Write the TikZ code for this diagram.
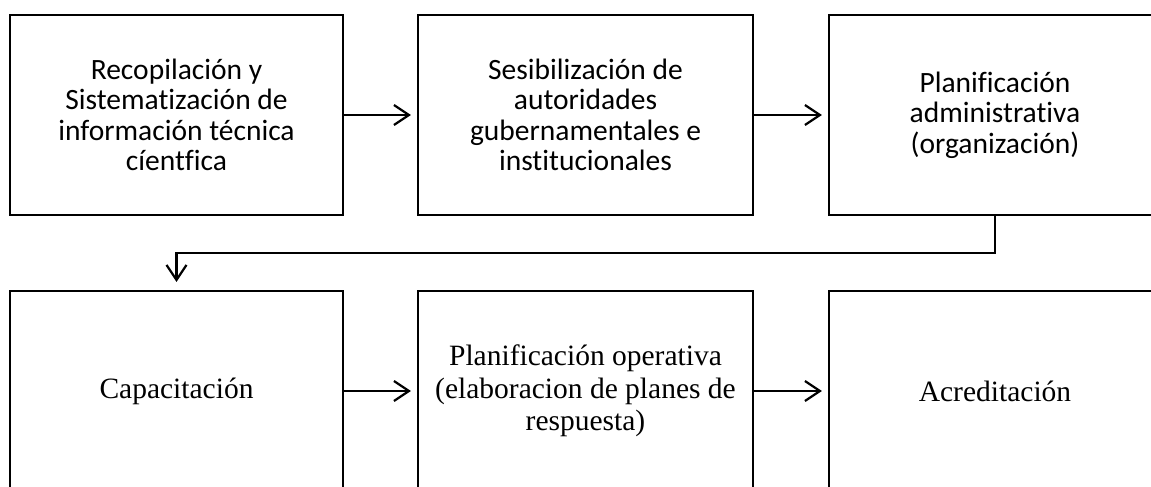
\documentclass[tikz,border=0pt]{standalone}
\usepackage{fontspec}
\setmainfont{Liberation Serif}[Ligatures={NoCommon}]
\newfontfamily\calfont{Carlito}[Ligatures={NoCommon}]
\usetikzlibrary{arrows.meta}
\tikzset{
  box/.style={draw, line width=2.2pt, rectangle, minimum height=200pt, inner sep=0pt, align=center},
  topbox/.style={box, font=\calfont\fontsize{29.5}{30.5}\selectfont},
  botbox/.style={box, font=\fontsize{29.5}{32.5}\selectfont},
  arr/.style={line width=2.2pt, -{Straight Barb[length=15pt,width=20pt,line width=2.2pt]}},
}
\begin{document}
\begin{tikzpicture}[x=1pt,y=-1pt]
\useasboundingbox (0,0) rectangle (1151,487);
\clip (0,0) rectangle (1151,487);
\fill[white] (0,0) rectangle (1151,487);
\node[topbox, minimum width=333pt] (n1) at (176.5,115) {Recopilación y\\Sistematización de\\información técnica\\cíentfica};
\node[topbox, minimum width=335pt] (n2) at (585.5,115) {Sesibilización de\\autoridades\\gubernamentales e\\institucionales};
\node[topbox, minimum width=332pt] (n3) at (995,115) {Planificación\\administrativa\\(organización)};
\node[botbox, minimum width=333pt] (n4) at (176.5,391) {Capacitación};
\node[botbox, minimum width=335pt] (n5) at (585.5,391) {Planificación operativa\\(elaboracion de planes de\\respuesta)};
\node[botbox, minimum width=332pt] (n6) at (995,391) {Acreditación};
\coordinate (bend) at (995,253);
\draw[arr, shorten >=6pt] (n1.east) -- (n2.west);
\draw[arr, shorten >=6pt] (n2.east) -- (n3.west);
\draw[arr, shorten >=8pt] (n3.south) -- (bend) -| (n4.north);
\draw[arr, shorten >=6pt] (n4.east) -- (n5.west);
\draw[arr, shorten >=6pt] (n5.east) -- (n6.west);
\end{tikzpicture}
\end{document}
